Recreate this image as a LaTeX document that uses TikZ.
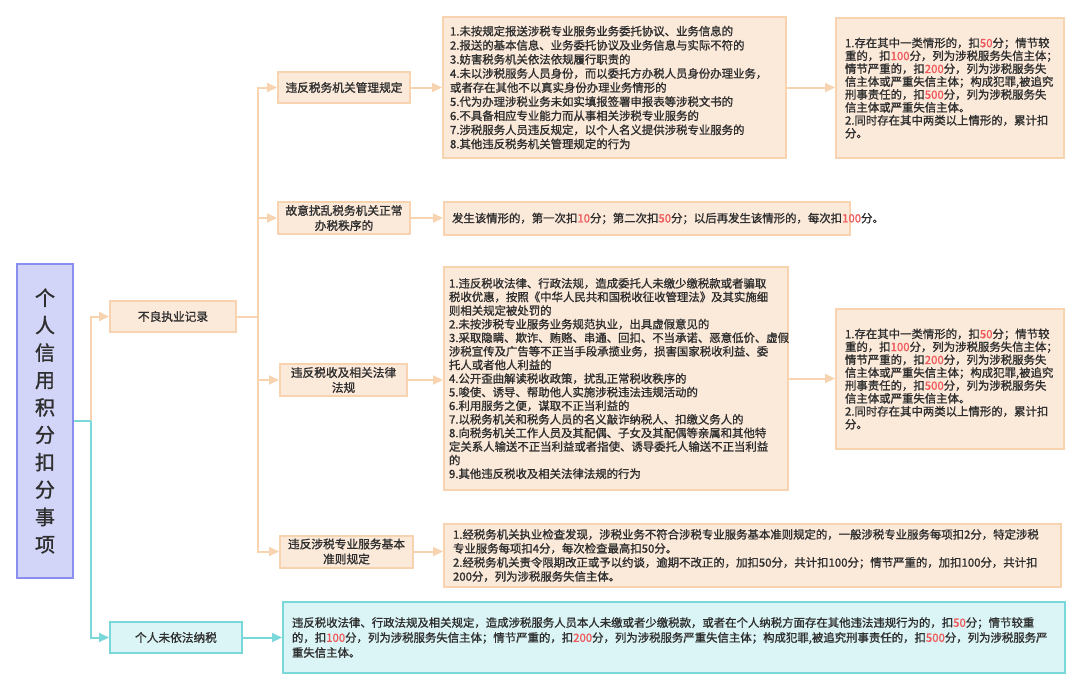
\documentclass[tikz,border=0pt]{standalone}
\usepackage{fontspec}
\setmainfont{Noto Sans CJK SC}[FakeBold=1.2]
\usetikzlibrary{arrows.meta}
\definecolor{txt}{HTML}{2E2E2E}
\definecolor{ofill}{HTML}{FBE9DA}
\definecolor{oedge}{HTML}{F8D3B0}
\definecolor{cfill}{HTML}{DBF4F5}
\definecolor{cedge}{HTML}{7AD7DA}
\definecolor{rfill}{HTML}{D3D5F8}
\definecolor{redge}{HTML}{8A8EEE}
\definecolor{numred}{HTML}{F0585A}
\newcommand{\rn}[1]{\textcolor{numred}{#1}}
\begin{document}
\begin{tikzpicture}[x=1pt,y=-1pt,
  basebox/.style={line width=2pt, text=txt, inner ysep=0pt},
  obox/.style={basebox, draw=oedge, fill=ofill},
  cbox/.style={basebox, draw=cedge, fill=cfill},
  midtext/.style={align=center, font=\fontsize{11.7}{15}\selectfont, inner xsep=0pt},
  listtext/.style={align=left, font=\fontsize{11.4}{14.1}\selectfont},
  restext/.style={align=left, font=\fontsize{11.4}{12.9}\selectfont},
  oarrow/.style={draw=oedge, line width=2pt, -{Triangle[length=10pt,width=9pt]}},
  carrow/.style={draw=cedge, line width=2pt, -{Triangle[length=10pt,width=9pt]}},
  oline/.style={draw=oedge, line width=2pt},
  cline/.style={draw=cedge, line width=2pt}]
\fill[white] (0,0) rectangle (1080,691);
\useasboundingbox (0,0) rectangle (1080,691);

% root
\node[basebox, draw=redge, fill=rfill, minimum width=56pt, minimum height=314pt,
      align=center, font=\fontsize{20}{27.4}\selectfont] (root) at (45,421)
  {个\\人\\信\\用\\积\\分\\扣\\分\\事\\项};

% level 1
\node[obox, midtext, minimum width=126pt, minimum height=31pt] (bl) at (173,316.5) {不良执业记录};
\node[cbox, midtext, minimum width=132pt, minimum height=31pt] (wf) at (176,637.5) {个人未依法纳税};

% level 2
\node[obox, midtext, minimum width=132pt, minimum height=31pt] (l2a) at (344,87.5) {违反税务机关管理规定};
\node[obox, midtext, minimum width=132pt, minimum height=32pt] (l2b) at (344,218) {故意扰乱税务机关正常\\办税秩序的};
\node[obox, midtext, minimum width=127pt, minimum height=32pt] (l2c) at (343.5,380) {违反税收及相关法律\\法规};
\node[obox, midtext, minimum width=133pt, minimum height=32pt] (l2d) at (346.5,551.5) {违反涉税专业服务基本\\准则规定};

% level 3
\node[obox, listtext, inner xsep=7pt, text width=329pt, minimum width=343pt, minimum height=141pt] (A1) at (614.5,87.5)
{1.未按规定报送涉税专业服务业务委托协议、业务信息的\\
2.报送的基本信息、业务委托协议及业务信息与实际不符的\\
3.妨害税务机关依法依规履行职责的\\
4.未以涉税服务人员身份，而以委托方办税人员身份办理业务，\\
或者存在其他不以真实身份办理业务情形的\\
5.代为办理涉税业务未如实填报签署申报表等涉税文书的\\
6.不具备相应专业能力而从事相关涉税专业服务的\\
7.涉税服务人员违反规定，以个人名义提供涉税专业服务的\\
8.其他违反税务机关管理规定的行为};

\node[obox, listtext, inner xsep=8pt, text width=390pt, minimum width=406pt, minimum height=33pt] (A2) at (647,218.5)
{发生该情形的，第一次扣\rn{10}分；第二次扣\rn{50}分；以后再发生该情形的，每次扣\rn{100}分。};

\node[obox, listtext, font=\fontsize{11.4}{13.6}\selectfont, inner xsep=5pt, text width=334pt, minimum width=344pt, minimum height=223pt] (B1) at (616,378.5)
{1.违反税收法律、行政法规，造成委托人未缴少缴税款或者骗取\\
税收优惠，按照《中华人民共和国税收征收管理法》及其实施细\\
则相关规定被处罚的\\
2.未按涉税专业服务业务规范执业，出具虚假意见的\\
3.采取隐瞒、欺诈、贿赂、串通、回扣、不当承诺、恶意低价、虚假\\
涉税宣传及广告等不正当手段承揽业务，损害国家税收利益、委\\
托人或者他人利益的\\
4.公开歪曲解读税收政策，扰乱正常税收秩序的\\
5.唆使、诱导、帮助他人实施涉税违法违规活动的\\
6.利用服务之便，谋取不正当利益的\\
7.以税务机关和税务人员的名义敲诈纳税人、扣缴义务人的\\
8.向税务机关工作人员及其配偶、子女及其配偶等亲属和其他特\\
定关系人输送不正当利益或者指使、诱导委托人输送不正当利益\\
的\\
9.其他违反税收及相关法律法规的行为};

\node[obox, restext, inner xsep=9pt, text width=210pt, minimum width=228pt, minimum height=140pt] (A3) at (950,88)
{1.存在其中一类情形的，扣\rn{50}分；情节较\\
重的，扣\rn{100}分，列为涉税服务失信主体；\\
情节严重的，扣\rn{200}分，列为涉税服务失\\
信主体或严重失信主体；构成犯罪,被追究\\
刑事责任的，扣\rn{500}分，列为涉税服务失\\
信主体或严重失信主体。\\
2.同时存在其中两类以上情形的，累计扣\\
分。};

\node[obox, restext, inner xsep=9pt, text width=210pt, minimum width=228pt, minimum height=140pt] (B3) at (950,379)
{1.存在其中一类情形的，扣\rn{50}分；情节较\\
重的，扣\rn{100}分，列为涉税服务失信主体；\\
情节严重的，扣\rn{200}分，列为涉税服务失\\
信主体或严重失信主体；构成犯罪,被追究\\
刑事责任的，扣\rn{500}分，列为涉税服务失\\
信主体或严重失信主体。\\
2.同时存在其中两类以上情形的，累计扣\\
分。};

\node[obox, listtext, font=\fontsize{11.4}{14}\selectfont, inner xsep=9pt, text width=599pt, minimum width=617pt, minimum height=63pt] (C1) at (752.5,555.5)
{1.经税务机关执业检查发现，涉税业务不符合涉税专业服务基本准则规定的，一般涉税专业服务每项扣2分，特定涉税\\
专业服务每项扣4分，每次检查最高扣50分。\\
2.经税务机关责令限期改正或予以约谈，逾期不改正的，加扣50分，共计扣100分；情节严重的，加扣100分，共计扣\\
200分，列为涉税服务失信主体。};

\node[cbox, listtext, font=\fontsize{11.4}{15}\selectfont, inner xsep=9pt, text width=764pt, minimum width=782pt, minimum height=71pt] (D1) at (674,637.5)
{违反税收法律、行政法规及相关规定，造成涉税服务人员本人未缴或者少缴税款，或者在个人纳税方面存在其他违法违规行为的，扣\rn{50}分；情节较重\\
的，扣\rn{100}分，列为涉税服务失信主体；情节严重的，扣\rn{200}分，列为涉税服务严重失信主体；构成犯罪,被追究刑事责任的，扣\rn{500}分，列为涉税服务严\\
重失信主体。};

% connectors
\coordinate (j0) at (91,421);
\coordinate (j1) at (258,316.5);
\draw[oarrow] (j0) |- (bl.west);
\draw[cline] (root.east) -- (j0);
\draw[carrow] (j0) |- (wf.west);
\draw[oline] (bl.east) -- (j1);
\draw[oarrow] (j1) |- (l2a.west);
\draw[oarrow] (j1) |- (l2b.west);
\draw[oarrow] (j1) |- (l2c.west);
\draw[oarrow] (j1) |- (l2d.west);
\draw[oarrow] (l2a.east) -- (A1.west |- l2a.east);
\draw[oarrow] (l2b.east) -- (A2.west |- l2b.east);
\draw[oarrow] (l2c.east) -- (B1.west |- l2c.east);
\draw[oarrow] (l2d.east) -- (C1.west |- l2d.east);
\draw[oarrow] (A1.east) -- (A3.west |- A1.east);
\draw[oarrow] (B1.east) -- (B3.west |- B1.east);
\draw[carrow] (wf.east) -- (D1.west |- wf.east);
\end{tikzpicture}
\end{document}
